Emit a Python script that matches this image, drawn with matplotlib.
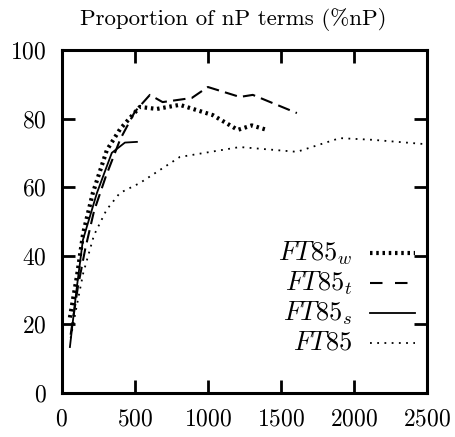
import matplotlib
matplotlib.use('Agg')
import matplotlib.pyplot as plt

plt.rcParams['font.family'] = ['cmr10', 'DejaVu Serif']
plt.rcParams['mathtext.fontset'] = 'cm'
plt.rcParams['axes.formatter.use_mathtext'] = True

# FT85_w (thick dotted)
w_x = [55, 103, 146, 212, 308, 400, 534, 650, 808, 1034, 1205, 1301, 1404]
w_y = [22, 34, 46.6, 58.3, 70.8, 77, 83.4, 82.8, 84, 81, 76.7, 78, 76.7]
# FT85_t (dashed)
t_x = [60, 110, 160, 220, 300, 400, 500, 603, 690, 890, 1000, 1219, 1308, 1610]
t_y = [17, 31, 42, 53, 63, 74, 82, 86.9, 84.8, 86, 89.2, 86.3, 86.9, 81.6]
# FT85_s (solid)
s_x = [55, 100, 144, 240, 342, 432, 514]
s_y = [13.4, 30, 44.6, 58.3, 70, 73, 73.2]
# FT85 (thin dotted)
b_x = [60, 100, 146, 220, 306, 397, 534, 808, 1219, 1610, 1904, 2130, 2473]
b_y = [16, 25, 34.9, 46, 53.4, 58.3, 61.2, 68.8, 71.7, 70.3, 74.3, 73.8, 72.6]

labels = [r'$FT85_w$', r'$FT85_t$', r'$FT85_s$', r'$FT85$']

fig = plt.figure(figsize=(4.55, 4.37), dpi=100)
ax = fig.add_axes([0.136, 0.1007, 0.802, 0.785])

styles = [
    dict(linestyle=(0, (0.6, 0.9)), linewidth=3.0),
    dict(linestyle=(0, (6, 3)), linewidth=1.5),
    dict(linestyle='-', linewidth=1.3),
    dict(linestyle=(0, (1, 3)), linewidth=1.3),
]
samples = [styles[0], dict(linestyle=(0, (6, 6)), linewidth=1.5), styles[2], styles[3]]

for i, (xs, ys) in enumerate([(w_x, w_y), (t_x, t_y), (s_x, s_y), (b_x, b_y)]):
    ax.plot(xs, ys, color='black', **styles[i])
    yy = 0.408 - i * 0.0875
    ax.text(0.797, yy, labels[i], transform=ax.transAxes, ha='right', va='center', fontsize=19)
    ax.plot([0.844, 0.967], [yy, yy], transform=ax.transAxes, color='black', **samples[i])

ax.set_xlim(0, 2500)
ax.set_ylim(0, 100)
ax.set_xticks([0, 500, 1000, 1500, 2000, 2500])
ax.set_yticks([0, 20, 40, 60, 80, 100])
ax.tick_params(direction='in', length=9.5, width=2, top=True, right=True, labelsize=17, pad=11)
for sp in ax.spines.values():
    sp.set_linewidth(2.2)
ax.set_title('Proportion of nP terms (%nP)', fontsize=16.5, pad=18, x=0.47)

fig.savefig('out.png', dpi=100)
